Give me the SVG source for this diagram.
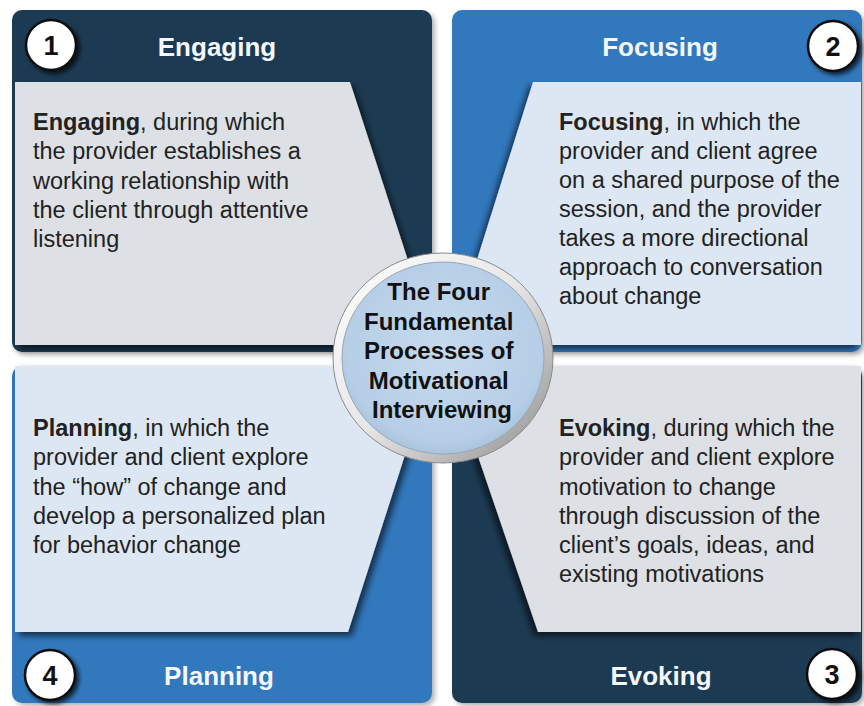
<svg xmlns="http://www.w3.org/2000/svg" width="864" height="706" viewBox="0 0 864 706">
  <defs>
    <filter id="shR" x="-10%" y="-10%" width="130%" height="130%">
      <feDropShadow dx="4" dy="4" stdDeviation="3" flood-color="#000" flood-opacity="0.6"/>
    </filter>
    <filter id="shL" x="-20%" y="-10%" width="130%" height="130%">
      <feDropShadow dx="-4" dy="4" stdDeviation="3" flood-color="#000" flood-opacity="0.6"/>
    </filter>
    <filter id="shQ" x="-10%" y="-10%" width="130%" height="130%">
      <feDropShadow dx="3" dy="3" stdDeviation="2.5" flood-color="#000" flood-opacity="0.3"/>
    </filter>
    <filter id="shN" x="-30%" y="-30%" width="170%" height="170%">
      <feDropShadow dx="3" dy="3" stdDeviation="2" flood-color="#000" flood-opacity="0.7"/>
    </filter>
    <linearGradient id="ring" x1="0" y1="0" x2="1" y2="1">
      <stop offset="0" stop-color="#ffffff"/>
      <stop offset="0.5" stop-color="#e6e6e6"/>
      <stop offset="1" stop-color="#8c8c8c"/>
    </linearGradient>
    <radialGradient id="core" cx="0.5" cy="0.45" r="0.6">
      <stop offset="0" stop-color="#C6DAEE"/>
      <stop offset="0.8" stop-color="#B6CEE6"/>
      <stop offset="1" stop-color="#A3BDD8"/>
    </radialGradient>
    <style>
      .navy { fill: #1E3A53; }
      .blue { fill: #3078BD; }
      .lgrey { fill: #DDE0E4; }
      .lblue { fill: #DDE7F3; }
      .head { font-family: "Liberation Sans", Arial, sans-serif; font-weight: bold; font-size: 26px; fill: #F4F7FB; text-anchor: middle; }
      .num { font-family: "Liberation Sans", Arial, sans-serif; font-weight: bold; font-size: 27px; fill: #111; text-anchor: middle; }
      .ncirc { fill: #fff; stroke: #111; stroke-width: 2.5; }
      .body { font-family: "Liberation Sans", Arial, sans-serif; font-size: 23.5px; fill: #222; }
      .b { font-weight: bold; }
      .ctr { font-family: "Liberation Sans", Arial, sans-serif; font-weight: bold; font-size: 24px; fill: #111; text-anchor: middle; }
    </style>
  </defs>
  <rect x="0" y="0" width="864" height="706" fill="#fff"/>

  <g id="engaging">
    <rect class="navy" x="12" y="10" width="420" height="342" rx="10" filter="url(#shQ)"/>
    <polygon class="lgrey" points="15,82 350,82 415,282 415,345 15,345" filter="url(#shR)"/>
    <circle class="ncirc" cx="51" cy="45" r="25" filter="url(#shN)"/>
    <text class="num" x="51" y="55">1</text>
    <text class="head" x="217" y="56">Engaging</text>
    <text class="body">
      <tspan x="33" y="130"><tspan class="b">Engaging</tspan>, during which</tspan>
      <tspan x="33" y="159.3">the provider establishes a</tspan>
      <tspan x="33" y="188.5">working relationship with</tspan>
      <tspan x="33" y="217.8">the client through attentive</tspan>
      <tspan x="33" y="247">listening</tspan>
    </text>
  </g>

  <g id="focusing">
    <rect class="blue" x="452" y="10" width="410" height="342" rx="10" filter="url(#shQ)"/>
    <polygon class="lblue" points="533,82 861,82 861,345 470,345 470,282" filter="url(#shL)"/>
    <circle class="ncirc" cx="833" cy="46" r="25" filter="url(#shN)"/>
    <text class="num" x="833" y="56">2</text>
    <text class="head" x="660" y="56">Focusing</text>
    <text class="body">
      <tspan x="559" y="130"><tspan class="b">Focusing</tspan>, in which the</tspan>
      <tspan x="559" y="159">provider and client agree</tspan>
      <tspan x="559" y="188">on a shared purpose of the</tspan>
      <tspan x="559" y="217">session, and the provider</tspan>
      <tspan x="559" y="246">takes a more directional</tspan>
      <tspan x="559" y="275">approach to conversation</tspan>
      <tspan x="559" y="304">about change</tspan>
    </text>
  </g>

  <g id="planning">
    <rect class="blue" x="12" y="366" width="420" height="337" rx="10" filter="url(#shQ)"/>
    <polygon class="lblue" points="15,366 413,366 413,430 348,632 15,632" filter="url(#shR)"/>
    <circle class="ncirc" cx="50" cy="675" r="25" filter="url(#shN)"/>
    <text class="num" x="50" y="685">4</text>
    <text class="head" x="219" y="685">Planning</text>
    <text class="body">
      <tspan x="33" y="436"><tspan class="b">Planning</tspan>, in which the</tspan>
      <tspan x="33" y="465.3">provider and client explore</tspan>
      <tspan x="33" y="494.5">the “how” of change and</tspan>
      <tspan x="33" y="523.8">develop a personalized plan</tspan>
      <tspan x="33" y="553">for behavior change</tspan>
    </text>
  </g>

  <g id="evoking">
    <rect class="navy" x="452" y="366" width="410" height="337" rx="10" filter="url(#shQ)"/>
    <polygon class="lgrey" points="469,366 861,366 861,632 538,632 469,430" filter="url(#shL)"/>
    <circle class="ncirc" cx="832" cy="674" r="25" filter="url(#shN)"/>
    <text class="num" x="832" y="684">3</text>
    <text class="head" x="661" y="685">Evoking</text>
    <text class="body">
      <tspan x="559" y="436"><tspan class="b">Evoking</tspan>, during which the</tspan>
      <tspan x="559" y="465.3">provider and client explore</tspan>
      <tspan x="559" y="494.5">motivation to change</tspan>
      <tspan x="559" y="523.8">through discussion of the</tspan>
      <tspan x="559" y="553">client’s goals, ideas, and</tspan>
      <tspan x="559" y="582.3">existing motivations</tspan>
    </text>
  </g>

  <g id="center">
    <ellipse cx="443" cy="358" rx="110" ry="105" fill="url(#ring)" stroke="#8a8a8a" stroke-width="1"/>
    <ellipse cx="443" cy="358" rx="101" ry="96" fill="url(#core)" stroke="#9aa6b2" stroke-width="1"/>
    <text class="ctr">
      <tspan x="442" y="300">The Four</tspan>
      <tspan x="442" y="329.5">Fundamental</tspan>
      <tspan x="442" y="359">Processes of</tspan>
      <tspan x="442" y="388.5">Motivational</tspan>
      <tspan x="442" y="418">Interviewing</tspan>
    </text>
  </g>

  <g id="connectors"/>
</svg>
